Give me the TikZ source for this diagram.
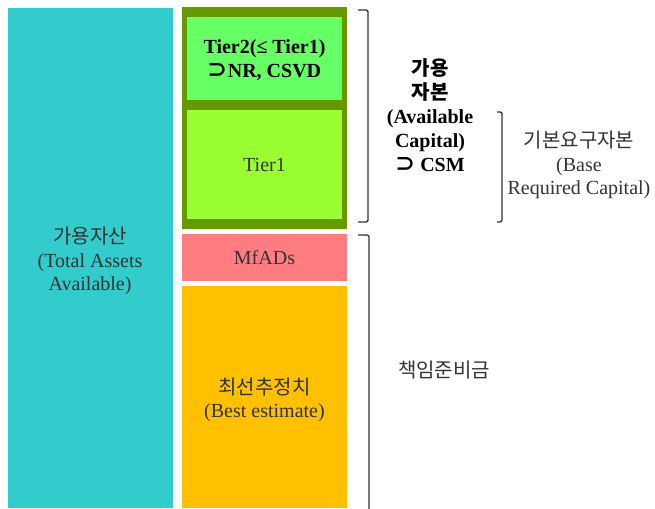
\documentclass[tikz,border=0pt]{standalone}
\usepackage{fontspec}
\setmainfont{Liberation Serif}
\newfontfamily\kr{Noto Sans CJK KR}
\definecolor{cassets}{HTML}{33CCCC}
\definecolor{colive}{HTML}{669900}
\definecolor{ctiertwo}{HTML}{66FF66}
\definecolor{ctierone}{HTML}{99FF33}
\definecolor{cmfad}{HTML}{FF7C80}
\definecolor{cbest}{HTML}{FFC000}
\definecolor{ctext}{HTML}{333333}
\definecolor{cbrk}{HTML}{333333}
\begin{document}
\begin{tikzpicture}[x=1pt,y=-1pt,
  blockbox/.style={anchor=north west, inner sep=0pt, outer sep=0pt, draw=none},
  lbl/.style={inner sep=0pt, align=center, text=ctext, font=\fontsize{20}{23.5}\selectfont},
  blbl/.style={lbl, text=black, font=\fontsize{20}{24}\selectfont\bfseries},
  brk/.style={draw=cbrk, line width=1.3pt, rounded corners=2pt}]
\useasboundingbox (0,0) rectangle (655,508);
% blocks
\node[blockbox, fill=cassets, minimum width=165pt, minimum height=500pt] (assets) at (8,8) {};
\node[blockbox, fill=colive, minimum width=165pt, minimum height=222pt] (capital) at (182,7) {};
\node[blockbox, fill=ctiertwo, minimum width=155pt, minimum height=83pt] (tiertwo) at (187,17) {};
\node[blockbox, fill=ctierone, minimum width=155pt, minimum height=109pt] (tierone) at (187,110) {};
\node[blockbox, fill=cmfad, minimum width=165pt, minimum height=47pt] (mfad) at (182,234) {};
\node[blockbox, fill=cbest, minimum width=165pt, minimum height=222pt] (best) at (182,286) {};
% labels
\node[lbl] (assetstxt) at (90,261) {{\kr 가용자산}\\(Total Assets\\Available)};
\node[blbl] (tiertwotxt) at (264.5,60) {Tier2(≤ Tier1)\\{\kr ⊃}NR, CSVD};
\node[lbl] (tieronetxt) at (264.5,165) {Tier1};
\node[lbl] (mfadtxt) at (264.5,258) {MfADs};
\node[lbl] (besttxt) at (264.5,400) {{\kr 최선추정치}\\(Best estimate)};
\node[blbl] (availtxt) at (430,115) {{\kr 가용}\\{\kr 자본}\\(Available\\Capital)\\{\kr ⊃} CSM};
\node[lbl] (basetxt) at (579,165) {{\kr 기본요구자본}\\(Base\\Required Capital)};
\node[lbl] (reservetxt) at (444,370) {\kr 책임준비금};
% brackets
\coordinate (b1a) at (358,10);
\coordinate (b1b) at (358,222);
\coordinate (b2a) at (497,112);
\coordinate (b2b) at (497,222);
\coordinate (b3a) at (358,235);
\coordinate (b3b) at (369,512);
\draw[brk] (b1a) -| ([xshift=10pt]b1b) -- (b1b);
\draw[brk] (b2a) -| ([xshift=5pt]b2b) -- (b2b);
\draw[brk] (b3a) -| (b3b);
\end{tikzpicture}
\end{document}
